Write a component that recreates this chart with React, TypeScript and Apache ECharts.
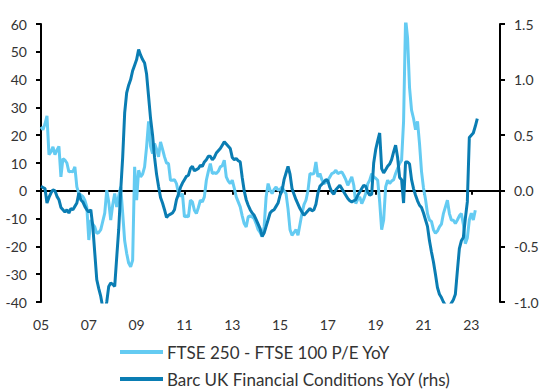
import React, { useEffect, useRef } from "react";
import * as echarts from "echarts";

// Monthly observations starting January 2005
const startYear = 2005;

const ftseLabel = "FTSE 250 - FTSE 100 P/E YoY";
const barcLabel = "Barc UK Financial Conditions YoY (rhs)";

// FTSE 250 - FTSE 100 P/E YoY (left axis), monthly from Jan 2005
const ftseValues = [
  23, 22, 24, 27, 13, 14, 15.8, 13, 14.6, 16, 5, 11.6,
  11, 10, 6.8, 7, 6.8, 8.6, 1.4, -1, -1.5, -2, -3.4, -5.8,
  -17.7, -10.5, -12, -13, -15.3, -15, -14, -11, -8, 0.2, -4, -10.5,
  -5, -1, -5.8, -2, 1.4, -8, -18, -22.5, -26, -27.3, -25, 8.6,
  -3.4, 7.4, 5, 6, 8.6, 15.8, 25, 16, 13.4, 17, 15, 12.2,
  17.6, 15, 12.2, 10, 9.8, 3.8, 3.8, 4, 2.6, -1, -2, -1,
  -9.4, -9, -9.4, -3.4, -4, -7, -8.2, -6, -3.4, -4, -2.2, 3.8,
  7, 9.8, 6.2, 6.5, 6.2, 7, 8.6, 9, 11, 5, 3.5, 2.6,
  3.8, 1, -2.2, -4, -5.8, -9, -11.8, -13, -9.4, -9, -9.4, -10,
  -11.8, -14, -15, -16.5, -13, -2.2, 2.6, 0.2, -1, 0.5, 1.4, 0.2,
  0.5, 1.4, 0, -1, -6.5, -14, -16, -15, -14, -16, -12, -8.2,
  -5, -3.4, 0, 6.2, 6, 6.2, 10.4, 5, 6.2, 4, 2.6, 3,
  3.8, 5, 6.2, 6.5, 7.4, 6.2, 6.5, 6.8, 5.5, 4, 2, 3.5,
  5, 2, -4.6, -3, -2.2, -4.6, -3, -1, 2.5, 3.8, 6.2, 5,
  4.5, 3.8, -4, -14, -10.5, 1.4, 3.8, 2.6, 3.5, 4, 6.2, 8,
  9.8, 11, 25, 62, 55, 37, 29, 26, 22, 25, 17, 7,
  1, -3, -8.2, -10.5, -11, -14, -15.3, -14.5, -13, -12, -8.2, -5.8,
  -3.4, -8.2, -10.5, -10.6, -11.8, -10.5, -9, -8.2, -12, -19, -17, -10.5,
  -8, -10.5, -7,
];

// Barc UK Financial Conditions YoY (right axis), monthly from Jan 2005
const barcValues = [
  0.04, 0.03, 0.02, -0.11, -0.06, -0.02, 0.01, 0.0, -0.05, -0.08, -0.15, -0.17,
  -0.19, -0.17, -0.2, -0.16, -0.17, -0.14, -0.11, -0.02, -0.08, -0.1, -0.14, -0.17,
  -0.19, -0.17, -0.32, -0.56, -0.8, -0.88, -0.95, -1.05, -1.1, -1.0, -0.86, -0.83,
  -0.84, -0.86, -0.6, -0.35, 0.0, 0.3, 0.7, 0.88, 0.95, 1.0, 1.08, 1.13,
  1.18, 1.27, 1.22, 1.18, 1.15, 1.05, 0.85, 0.65, 0.5, 0.3, 0.15, 0.04,
  -0.06, -0.11, -0.17, -0.24, -0.22, -0.21, -0.2, -0.17, -0.08, -0.03, 0.03, 0.07,
  0.1, 0.13, 0.14, 0.2, 0.22, 0.18, 0.19, 0.2, 0.23, 0.22, 0.26, 0.28,
  0.31, 0.31, 0.28, 0.3, 0.34, 0.36, 0.38, 0.41, 0.44, 0.42, 0.4, 0.38,
  0.3, 0.28, 0.29, 0.27, 0.26, 0.12, 0.0, -0.08, -0.13, -0.17, -0.2, -0.22,
  -0.26, -0.3, -0.34, -0.41, -0.38, -0.32, -0.26, -0.2, -0.18, -0.17, -0.14, -0.11,
  -0.04, 0.0, 0.1, 0.16, 0.22, 0.15, 0.02, -0.03, -0.08, -0.12, -0.16, -0.19,
  -0.22, -0.2, -0.18, -0.16, -0.18, -0.17, -0.12, -0.02, 0.04, 0.06, 0.08, 0.1,
  0.09, 0.03, -0.01, -0.03, 0.01, 0.03, 0.05, 0.02, -0.01, -0.04, -0.07, -0.09,
  -0.1, -0.09, -0.08, -0.04, -0.01, 0.02, 0.05, 0.04, -0.01, -0.04, -0.03, 0.25,
  0.37, 0.45, 0.52, 0.2, 0.16, 0.19, 0.22, 0.24, 0.28, 0.35, 0.41, 0.3,
  0.12, 0.1, -0.11, 0.26, 0.26, 0.24, 0.1, 0.02, -0.04, -0.09, -0.13, -0.15,
  -0.2, -0.26, -0.32, -0.45, -0.55, -0.64, -0.75, -0.87, -0.93, -0.96, -1.0, -1.03,
  -1.05, -1.04, -1.01, -0.98, -0.93, -0.72, -0.52, -0.45, -0.42, -0.25, -0.1, 0.48,
  0.5, 0.52, 0.58, 0.65,
];

const leftTicks = { min: -40, max: 60, interval: 10 };
const rightTicks = { min: -1, max: 1.5, interval: 0.5 };
const xExtent = { min: 0, max: 19.2, interval: 2 };

const lightBlue = "#64CBF2";
const darkBlue = "#0A7DB3";
const font = "Lato, 'Open Sans', sans-serif";
const textColor = "#333333";

export default function App() {
  const ref = useRef<HTMLDivElement>(null);

  useEffect(() => {
    if (!ref.current) return;
    const chart = echarts.init(ref.current, undefined, { renderer: "svg" });
    const toPoints = (vals: number[]) => vals.map((v, i) => [i / 12, v]);

    const legendBase = {
      orient: "horizontal",
      left: 120,
      itemWidth: 43,
      itemHeight: 4,
      itemGap: 4,
      icon: "rect",
      padding: 0,
      textStyle: { fontSize: 17, color: textColor, fontFamily: font, lineHeight: 18, padding: [0, 0, 0, -1] },
    };

    chart.setOption({
      animation: false,
      textStyle: { fontFamily: font },
      grid: { left: 41, right: 45, top: 24, bottom: 89, containLabel: false },
      legend: [
        { ...legendBase, data: [ftseLabel], top: 343 },
        { ...legendBase, data: [barcLabel], top: 370 },
      ],
      xAxis: [
        {
          type: "value",
          ...xExtent,
          axisLine: { show: false, onZero: false },
          axisTick: { show: false },
          splitLine: { show: false },
          axisLabel: {
            margin: 15,
            fontSize: 14,
            color: textColor,
            fontFamily: font,
            showMaxLabel: false,
            formatter: (v: number) =>
              Number.isInteger(v) && v % 2 === 0
                ? String((startYear + v) % 100).padStart(2, "0")
                : "",
          },
        },
        {
          type: "value",
          ...xExtent,
          position: "bottom",
          axisLine: { show: true, onZero: true, onZeroAxisIndex: 0, lineStyle: { color: "#000", width: 2 } },
          axisTick: { show: true, length: 4, lineStyle: { color: "#000", width: 2 } },
          axisLabel: { show: false },
          splitLine: { show: false },
        },
      ],
      yAxis: [
        {
          type: "value",
          ...leftTicks,
          position: "left",
          axisLine: { show: true, onZero: false, lineStyle: { color: "#000", width: 2 } },
          axisTick: { show: true, length: 5, lineStyle: { color: "#000", width: 2 } },
          splitLine: { show: false },
          axisLabel: { margin: 14, fontSize: 14, color: textColor, fontFamily: font },
        },
        {
          type: "value",
          ...rightTicks,
          position: "right",
          axisLine: { show: true, onZero: false, lineStyle: { color: "#000", width: 2 } },
          axisTick: { show: true, length: 5, lineStyle: { color: "#000", width: 2 } },
          splitLine: { show: false },
          axisLabel: {
            margin: 14,
            fontSize: 14,
            color: textColor,
            fontFamily: font,
            formatter: (v: number) => v.toFixed(1),
          },
        },
      ],
      series: [
        {
          name: ftseLabel,
          type: "line",
          xAxisIndex: 0,
          yAxisIndex: 0,
          data: toPoints(ftseValues),
          showSymbol: false,
          clip: true,
          lineStyle: { color: lightBlue, width: 3 },
          itemStyle: { color: lightBlue },
        },
        {
          name: barcLabel,
          type: "line",
          xAxisIndex: 0,
          yAxisIndex: 1,
          data: toPoints(barcValues),
          showSymbol: false,
          clip: true,
          lineStyle: { color: darkBlue, width: 3 },
          itemStyle: { color: darkBlue },
        },
      ],
    });

    return () => chart.dispose();
  }, []);

  return (
    <div
      ref={ref}
      style={{ position: "fixed", left: 0, top: 0, width: 545, height: 391, background: "#fff" }}
    />
  );
}
